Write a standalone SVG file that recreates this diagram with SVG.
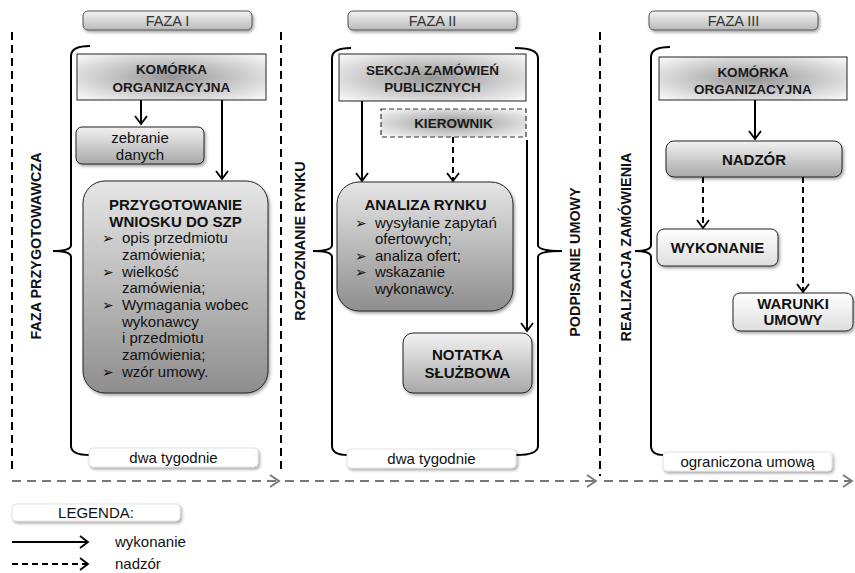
<svg xmlns="http://www.w3.org/2000/svg" width="855" height="573" viewBox="0 0 855 573">
<defs>
<radialGradient id="hdr" cx="50%" cy="50%" r="65%">
<stop offset="0" stop-color="#969696"/>
<stop offset="1" stop-color="#f4f4f4"/>
</radialGradient>
<linearGradient id="big" x1="0" y1="0" x2="0" y2="1">
<stop offset="0" stop-color="#e6e6e6"/>
<stop offset="1" stop-color="#8e8e8e"/>
</linearGradient>
<linearGradient id="mid" x1="0" y1="0" x2="0" y2="1">
<stop offset="0" stop-color="#f2f2f2"/>
<stop offset="1" stop-color="#a8a8a8"/>
</linearGradient>
<linearGradient id="light" x1="0" y1="0" x2="0" y2="1">
<stop offset="0" stop-color="#ffffff"/>
<stop offset="1" stop-color="#dedede"/>
</linearGradient>
<linearGradient id="pill" x1="0" y1="0" x2="0" y2="1">
<stop offset="0" stop-color="#f4f4f4"/>
<stop offset="1" stop-color="#b9b9b9"/>
</linearGradient>
<filter id="sh" x="-10%" y="-10%" width="125%" height="135%">
<feDropShadow dx="1.5" dy="2" stdDeviation="1.5" flood-color="#000" flood-opacity="0.35"/>
</filter>
<marker id="ah" markerUnits="userSpaceOnUse" markerWidth="12" markerHeight="14" refX="8" refY="6" orient="auto" overflow="visible">
<path d="M0,0 L8,6 L0,12" fill="none" stroke="#000" stroke-width="1.8" stroke-dasharray="none"/>
</marker>
<marker id="ahg" markerUnits="userSpaceOnUse" markerWidth="14" markerHeight="14" refX="9" refY="6" orient="auto" overflow="visible">
<path d="M0,0 L9,6 L0,12" fill="none" stroke="#777" stroke-width="1.8" stroke-dasharray="none"/>
</marker>
</defs>
<style>
text{font-family:"Liberation Sans",Arial,sans-serif;fill:#111}
.b{font-weight:bold}
.n{font-size:15px}
.h{font-size:13.5px;font-weight:bold;fill:#1a1a1a}
.ph{font-size:14.5px;fill:#333}
.v{font-size:14.4px;font-weight:bold}
.bul{font-family:"DejaVu Sans",sans-serif;font-size:14px}
.conn{fill:none;stroke:#000;stroke-width:2}
.dash{stroke-dasharray:6 4}
.brace{fill:none;stroke:#000;stroke-width:2}
.sep{fill:none;stroke:#000;stroke-width:2;stroke-dasharray:8 5}
.tl{fill:none;stroke:#777;stroke-width:2;stroke-dasharray:9 6}
.hbox{fill:url(#hdr);stroke:#222;stroke-width:1}
.lab{fill:#fff;stroke:#ddd;stroke-width:0.8}
</style>
<rect width="855" height="573" fill="#fff"/>

<!-- separators and timeline -->
<g id="separators">
<line class="sep" x1="12" y1="32" x2="12" y2="474"/>
<line class="sep" x1="281" y1="32" x2="281" y2="474"/>
<line class="sep" x1="600" y1="32" x2="600" y2="476"/>
<path class="tl" d="M12,481 L279,481" marker-end="url(#ahg)"/>
<path class="tl" d="M285,481 L596,481" marker-end="url(#ahg)"/>
<path class="tl" d="M604,481 L852,481" marker-end="url(#ahg)"/>
</g>

<!-- phase headers -->
<g id="faza1"><rect x="83" y="11" width="169" height="19" rx="5" fill="url(#pill)" stroke="#555" filter="url(#sh)"/><text class="ph" x="167.5" y="25.5" text-anchor="middle">FAZA I</text></g>
<g id="faza2"><rect x="348" y="11" width="169" height="19" rx="5" fill="url(#pill)" stroke="#555" filter="url(#sh)"/><text class="ph" x="432.5" y="25.5" text-anchor="middle">FAZA II</text></g>
<g id="faza3"><rect x="649" y="11" width="169" height="19" rx="5" fill="url(#pill)" stroke="#555" filter="url(#sh)"/><text class="ph" x="733.5" y="25.5" text-anchor="middle">FAZA III</text></g>

<!-- braces -->
<g id="braces">
<path class="brace" d="M90,46 Q71,46 71,56 L71,245 Q71,251 53,251 Q71,251 71,257 L71,446 Q71,455 90,455"/>
<path class="brace" d="M351,48 Q332,48 332,58 L332,245 Q332,251 313,251 Q332,251 332,257 L332,446 Q332,455 348,455"/>
<path class="brace" d="M515,48 Q538,48 538,58 L538,245 Q538,251 562,251 Q538,251 538,257 L538,446 Q538,455 516,455"/>
<path class="brace" d="M670,47 Q651,47 651,57 L651,245 Q651,251 635,251 Q651,251 651,257 L651,446 Q651,455 664,455"/>
</g>

<!-- vertical labels -->
<g id="vlabels">
<text class="v" transform="translate(41,246) rotate(-90)" text-anchor="middle">FAZA PRZYGOTOWAWCZA</text>
<text class="v" transform="translate(305,241) rotate(-90)" text-anchor="middle">ROZPOZNANIE RYNKU</text>
<text class="v" transform="translate(580,262) rotate(-90)" text-anchor="middle">PODPISANIE UMOWY</text>
<text class="v" transform="translate(631,247) rotate(-90)" text-anchor="middle">REALIZACJA ZAMÓWIENIA</text>
</g>

<!-- duration labels -->
<g id="czas1"><rect class="lab" x="89" y="448" width="169" height="19" rx="4" filter="url(#sh)"/><text class="n" x="173.5" y="463" text-anchor="middle">dwa tygodnie</text></g>
<g id="czas2"><rect class="lab" x="347" y="449" width="169" height="19" rx="4" filter="url(#sh)"/><text class="n" x="431.5" y="464" text-anchor="middle">dwa tygodnie</text></g>
<g id="czas3"><rect class="lab" x="663" y="452" width="169" height="19" rx="4" filter="url(#sh)"/><text class="n" x="747.5" y="467" text-anchor="middle">ograniczona umową</text></g>

<!-- connectors -->
<g id="connectors">
<path class="conn" d="M141,100 L141,124" marker-end="url(#ah)"/>
<path class="conn" d="M222,100 L222,179" marker-end="url(#ah)"/>
<path class="conn" d="M362,101 L362,181" marker-end="url(#ah)"/>
<path class="conn dash" d="M453,137 L453,181" marker-end="url(#ah)"/>
<path class="conn" d="M527,140 L527,331" marker-end="url(#ah)"/>
<path class="conn" d="M755,100 L755,139" marker-end="url(#ah)"/>
<path class="conn dash" d="M703,177 L703,228" marker-end="url(#ah)"/>
<path class="conn dash" d="M803,177 L803,292" marker-end="url(#ah)"/>
</g>

<!-- Faza I nodes -->
<g id="komorka1"><rect class="hbox" x="77" y="54" width="189" height="46"/><text class="h" x="171.5" y="74" text-anchor="middle">KOMÓRKA</text><text class="h" x="171.5" y="92" text-anchor="middle">ORGANIZACYJNA</text></g>
<g id="zebranie"><rect x="76" y="127" width="128" height="37" rx="6" fill="url(#mid)" stroke="#222" filter="url(#sh)"/><text class="n" x="140" y="143" text-anchor="middle">zebranie</text><text class="n" x="140" y="160" text-anchor="middle">danych</text></g>
<g id="przygotowanie"><rect x="83" y="181" width="185" height="212" rx="22" fill="url(#big)" stroke="#222" filter="url(#sh)"/>
<text class="n b" x="175.5" y="210" text-anchor="middle">PRZYGOTOWANIE</text>
<text class="n b" x="175.5" y="227" text-anchor="middle">WNIOSKU DO SZP</text>
<text class="bul" x="102" y="243">➢</text><text class="n" x="122" y="243">opis przedmiotu</text>
<text class="n" x="122" y="260">zamówienia;</text>
<text class="bul" x="102" y="277">➢</text><text class="n" x="122" y="277">wielkość</text>
<text class="n" x="122" y="293">zamówienia;</text>
<text class="bul" x="102" y="310">➢</text><text class="n" x="122" y="310">Wymagania wobec</text>
<text class="n" x="122" y="327">wykonawcy</text>
<text class="n" x="122" y="343">i przedmiotu</text>
<text class="n" x="122" y="360">zamówienia;</text>
<text class="bul" x="102" y="377">➢</text><text class="n" x="122" y="377">wzór umowy.</text>
</g>

<!-- Faza II nodes -->
<g id="sekcja"><rect class="hbox" x="339" y="54" width="187" height="47"/><text class="h" x="432.5" y="75" text-anchor="middle">SEKCJA ZAMÓWIEŃ</text><text class="h" x="432.5" y="92" text-anchor="middle">PUBLICZNYCH</text></g>
<g id="kierownik"><rect x="381" y="109" width="145" height="28" fill="url(#hdr)" stroke="#333" stroke-width="1.2" stroke-dasharray="5 3"/><text class="h" x="453.5" y="128" text-anchor="middle">KIEROWNIK</text></g>
<g id="analiza"><rect x="337" y="182" width="176" height="129" rx="22" fill="url(#big)" stroke="#222" filter="url(#sh)"/>
<text class="n b" x="425.5" y="210" text-anchor="middle">ANALIZA RYNKU</text>
<text class="bul" x="355" y="228">➢</text><text class="n" x="375" y="228">wysyłanie zapytań</text>
<text class="n" x="375" y="244">ofertowych;</text>
<text class="bul" x="355" y="261">➢</text><text class="n" x="375" y="261">analiza ofert;</text>
<text class="bul" x="355" y="277">➢</text><text class="n" x="375" y="277">wskazanie</text>
<text class="n" x="375" y="294">wykonawcy.</text>
</g>
<g id="notatka"><rect x="403" y="333" width="129" height="60" rx="10" fill="url(#mid)" stroke="#222" filter="url(#sh)"/><text class="n b" x="467.5" y="360" text-anchor="middle">NOTATKA</text><text class="n b" x="467.5" y="378" text-anchor="middle">SŁUŻBOWA</text></g>

<!-- Faza III nodes -->
<g id="komorka3"><rect class="hbox" x="659" y="57" width="188" height="43"/><text class="h" x="753" y="77" text-anchor="middle">KOMÓRKA</text><text class="h" x="753" y="94" text-anchor="middle">ORGANIZACYJNA</text></g>
<g id="nadzor"><rect x="666" y="141" width="176" height="36" rx="8" fill="url(#mid)" stroke="#222" filter="url(#sh)"/><text class="n b" x="754" y="164.5" text-anchor="middle">NADZÓR</text></g>
<g id="wykonanie"><rect x="657" y="229" width="121" height="37" rx="7" fill="url(#light)" stroke="#222" filter="url(#sh)"/><text class="n b" x="717.5" y="253" text-anchor="middle">WYKONANIE</text></g>
<g id="warunki"><rect x="733" y="293" width="120" height="38" rx="7" fill="url(#light)" stroke="#222" filter="url(#sh)"/><text class="n b" x="793" y="309" text-anchor="middle">WARUNKI</text><text class="n b" x="793" y="325" text-anchor="middle">UMOWY</text></g>

<!-- legend -->
<g id="legenda">
<rect class="lab" x="12" y="504" width="168" height="17" rx="4" filter="url(#sh)"/>
<text class="n" x="96" y="518" text-anchor="middle">LEGENDA:</text>
<path class="conn" d="M12,542 L88,542" marker-end="url(#ah)"/>
<text class="n" x="115" y="547">wykonanie</text>
<path class="conn dash" d="M12,564 L88,564" marker-end="url(#ah)"/>
<text class="n" x="115" y="569">nadzór</text>
</g>
</svg>
